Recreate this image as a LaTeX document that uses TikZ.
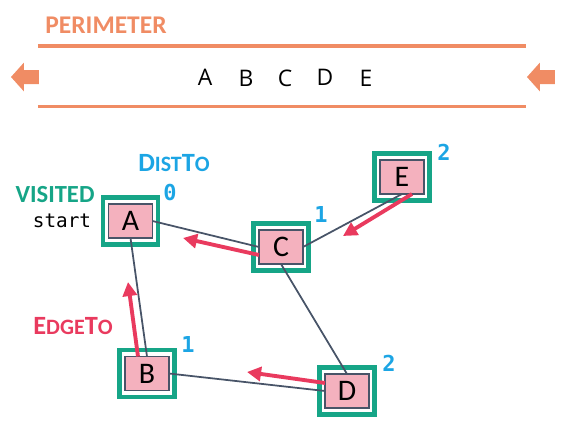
\documentclass[tikz,border=0pt]{standalone}
\usepackage{fontspec}
\setmainfont{Carlito}
\setmonofont{DejaVu Sans Mono}
\newfontfamily\queuefont{Open Sans}
\usetikzlibrary{arrows.meta,positioning}

\definecolor{perimorange}{RGB}{240,140,100}
\definecolor{visitgreen}{RGB}{22,165,135}
\definecolor{distblue}{RGB}{28,165,228}
\definecolor{edgered}{RGB}{233,58,94}
\definecolor{boxpink}{RGB}{244,177,190}
\definecolor{slate}{RGB}{72,84,104}

\newcommand{\fakesc}[2]{{\fontsize{15}{15}\selectfont #1}{\fontsize{12.5}{12.5}\selectfont #2}}

\begin{document}
\begin{tikzpicture}[x = 0.02cm, y = -0.02cm]
  \useasboundingbox (0,0) rectangle (566,423);
  \tikzset{VertexStyle/.style = {shape          = rectangle,
                                 draw           = slate,
                                 fill           = boxpink,
                                 text           = black,
                                 line width     = 1.1pt,
                                 inner sep      = 0pt,
                                 outer sep      = 0pt,
                                 minimum width  = 0.88cm,
                                 minimum height = 0.68cm,
                                 font           = \fontsize{17}{17}\selectfont}}
  \tikzset{FrameStyle/.style  = {shape          = rectangle,
                                 draw           = visitgreen,
                                 line width     = 2.3pt,
                                 inner sep      = 0pt,
                                 minimum width  = 1.1cm,
                                 minimum height = 0.94cm}}
  \tikzset{EdgeStyle/.style   = {draw           = slate,
                                 line width     = 1pt}}
  \tikzset{EdgeToStyle/.style = {draw           = edgered,
                                 line width     = 2.2pt,
                                 -{Triangle[length=8pt,width=8pt]}}}
  \tikzset{DistStyle/.style   = {text           = distblue,
                                 inner sep      = 0pt,
                                 font           = \ttfamily\bfseries\fontsize{12.5}{12.5}\selectfont}}
  \tikzset{QueueStyle/.style  = {inner sep      = 0pt,
                                 font           = \queuefont\fontsize{13}{13}\selectfont}}
  \tikzset{PerimStyle/.style  = {fill           = perimorange}}

  % perimeter
  \node[text=perimorange, inner sep=0pt, font=\bfseries\fontsize{14.5}{14.5}\selectfont]
       (lblPerim) at (106,25) {PERIMETER};
  \draw[perimorange, line width=1.9pt] (38,46) -- (526,46);
  \draw[perimorange, line width=1.9pt] (38,106.5) -- (526,106.5);
  \foreach \x in {11,527}
    \fill[PerimStyle] (\x,77) -- ++(13,-14.5) -- ++(0,7.5) -- ++(15,0)
                      -- ++(0,14) -- ++(-15,0) -- ++(0,7.5) -- cycle;
  \node[QueueStyle] (qA) at (205,77) {A};
  \node[QueueStyle] (qB) at (246,78) {B};
  \node[QueueStyle] (qC) at (285,78) {C};
  \node[QueueStyle] (qD) at (325,77) {D};
  \node[QueueStyle] (qE) at (366,78) {E};

  % graph
  \node[FrameStyle]  (fA) at (130.5,221) {};
  \node[FrameStyle]  (fB) at (147,373.5) {};
  \node[FrameStyle]  (fC) at (281,247)   {};
  \node[FrameStyle]  (fD) at (347,391)   {};
  \node[FrameStyle]  (fE) at (402,177)   {};
  \node[VertexStyle] (A)  at (fA) {A};
  \node[VertexStyle] (B)  at (fB) {B};
  \node[VertexStyle] (C)  at (fC) {C};
  \node[VertexStyle] (D)  at (fD) {D};
  \node[VertexStyle] (E)  at (fE) {E};

  \draw[EdgeStyle] (A.east)  -- (C.west);
  \draw[EdgeStyle] (A.south) -- (B.north);
  \draw[EdgeStyle] (C.east)  -- (E.south);
  \draw[EdgeStyle] (C.south) -- (D.north);
  \draw[EdgeStyle] (B.east)  -- (D.west);

  % edgeTo
  \coordinate (tipCA) at (183,238);
  \coordinate (tipEC) at (343,236);
  \coordinate (tipBA) at (128,282);
  \coordinate (tipDB) at (247,372);
  \draw[EdgeToStyle] ([yshift=-0.16cm]C.west)  -- (tipCA);
  \draw[EdgeToStyle] ([xshift=0.2cm]E.south)   -- (tipEC);
  \draw[EdgeToStyle] ([xshift=-0.18cm]B.north) -- (tipBA);
  \draw[EdgeToStyle] ([yshift=0.16cm]D.west)   -- (tipDB);

  % labels
  \node[text=visitgreen, inner sep=0pt, font=\bfseries\fontsize{14}{14}\selectfont]
       (lblVisited) at (55,195) {VISITED};
  \node[inner sep=0pt, font=\ttfamily\fontsize{11}{11}\selectfont]
       (lblStart) at (62,221) {start};
  \node[text=distblue, inner sep=0pt, font=\bfseries]
       (lblDistTo) at (174,163) {\fakesc{D}{IST}\fakesc{T}{O}};
  \node[text=edgered, inner sep=0pt, font=\bfseries]
       (lblEdgeTo) at (73,326) {\fakesc{E}{DGE}\fakesc{T}{O}};
  \node[DistStyle] (dA) at (170,193) {0};
  \node[DistStyle] (dC) at (321,214) {1};
  \node[DistStyle] (dE) at (444,152) {2};
  \node[DistStyle] (dB) at (188,344) {1};
  \node[DistStyle] (dD) at (389,363) {2};
\end{tikzpicture}
\end{document}
